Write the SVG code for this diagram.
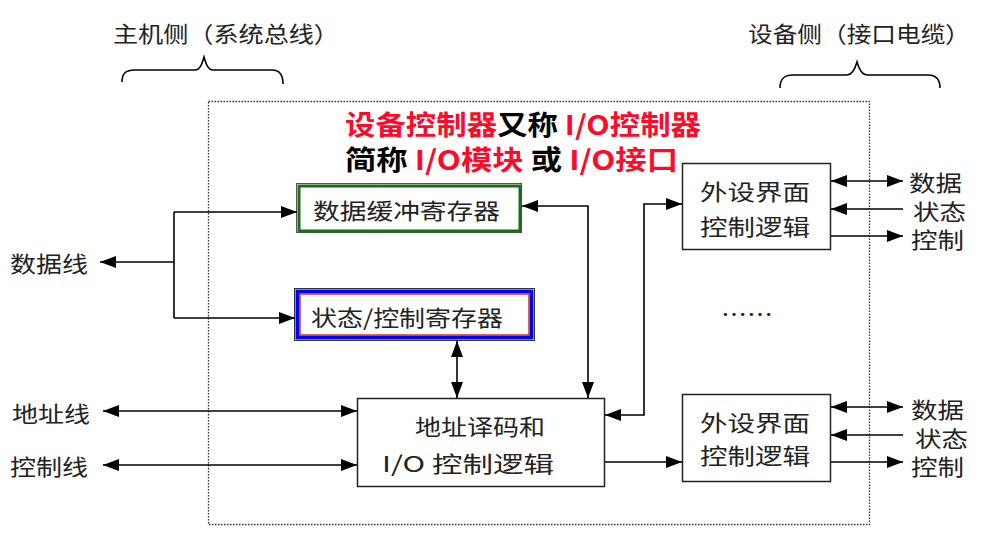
<svg xmlns="http://www.w3.org/2000/svg" width="990" height="536" viewBox="0 0 990 536">
<style>
  .t { font-family: "Noto Sans CJK SC", "Noto Sans", sans-serif; font-size: 22px; fill: #222; dominant-baseline: central; }
  .title { font-family: "Noto Sans CJK SC", "Noto Sans", sans-serif; font-size: 27px; font-weight: bold; dominant-baseline: central; }
  .red { fill: #ff0a2a; }
  .blk { fill: #000; }
  .box { fill: #fff; stroke: #222; stroke-width: 1.5; }
  .ln { fill: none; stroke: #000; stroke-width: 1.6; }
  .both { marker-start: url(#ah); marker-end: url(#ah); }
  .end { marker-end: url(#ah); }
</style>
<defs>
  <marker id="ah" viewBox="0 0 16 12" refX="16" refY="6" markerWidth="16" markerHeight="12" markerUnits="userSpaceOnUse" orient="auto-start-reverse">
    <path d="M0,0 L16,6 L0,12 z" fill="#000"/>
  </marker>
</defs>
<rect width="990" height="536" fill="#fff"/>

<g id="host-side">
  <text class="t" x="113" y="32" textLength="226" lengthAdjust="spacingAndGlyphs">主机侧（系统总线）</text>
  <path class="ln" stroke-width="1.4" d="M122,82 C122,74 125,70 135,70 L195,70 C200,70 202,64 204,57 C206,64 208,70 213,70 L272,70 C280,70 283,75 283,84"/>
</g>
<g id="device-side">
  <text class="t" x="748" y="32" textLength="222" lengthAdjust="spacingAndGlyphs">设备侧（接口电缆）</text>
  <path class="ln" stroke-width="1.4" d="M780,88 C780,80 783,75 793,75 L847,75 C852,75 855,69 857,62 C859,69 862,75 867,75 L928,75 C936,75 940,80 940,88"/>
</g>

<g id="io-module-boundary">
  <rect x="208.5" y="101.5" width="661" height="423" fill="none" stroke="#333" stroke-width="1.3" stroke-dasharray="1.5 1.5"/>
</g>

<g id="title">
  <text class="title" x="345" y="123" textLength="356" lengthAdjust="spacingAndGlyphs"><tspan class="red">设备控制器</tspan><tspan class="blk">又称 </tspan><tspan class="red">I/O控制器</tspan></text>
  <text class="title" x="345" y="158" textLength="333" lengthAdjust="spacingAndGlyphs"><tspan class="blk">简称 </tspan><tspan class="red">I/O模块 </tspan><tspan class="blk">或 </tspan><tspan class="red">I/O接口</tspan></text>
</g>

<g id="data-buffer">
  <rect x="296.5" y="183.5" width="225" height="49" fill="#fff" stroke="#555" stroke-width="1"/>
  <rect x="299" y="186" width="221" height="45" fill="none" stroke="#1e6b1e" stroke-width="3"/>
  <text class="t" x="313" y="209" textLength="187" lengthAdjust="spacingAndGlyphs">数据缓冲寄存器</text>
</g>

<g id="status-control-register">
  <rect x="294.5" y="288.5" width="240" height="52" fill="#fff" stroke="#333" stroke-width="1"/>
  <rect x="297.5" y="291.5" width="234" height="46" fill="none" stroke="#0000ff" stroke-width="4"/>
  <rect x="300" y="294" width="229" height="41" fill="none" stroke="#d03a10" stroke-width="1.5"/>
  <text class="t" x="311" y="316" textLength="192" lengthAdjust="spacingAndGlyphs">状态/控制寄存器</text>
</g>

<g id="address-decode">
  <rect class="box" x="357.5" y="398.5" width="247" height="88"/>
  <text class="t" x="480" y="425" text-anchor="middle" textLength="130" lengthAdjust="spacingAndGlyphs">地址译码和</text>
  <text class="t" x="468" y="462" text-anchor="middle" textLength="172" lengthAdjust="spacingAndGlyphs">I/O 控制逻辑</text>
</g>

<g id="device-logic-1">
  <rect class="box" x="682.5" y="163.5" width="148" height="86"/>
  <text class="t" x="755" y="190" text-anchor="middle" textLength="110" lengthAdjust="spacingAndGlyphs">外设界面</text>
  <text class="t" x="755" y="225" text-anchor="middle" textLength="110" lengthAdjust="spacingAndGlyphs">控制逻辑</text>
</g>

<g id="device-logic-2">
  <rect class="box" x="682.5" y="394.5" width="148" height="87"/>
  <text class="t" x="755" y="421" text-anchor="middle" textLength="110" lengthAdjust="spacingAndGlyphs">外设界面</text>
  <text class="t" x="755" y="454" text-anchor="middle" textLength="110" lengthAdjust="spacingAndGlyphs">控制逻辑</text>
</g>

<g id="labels">
  <text class="t" x="10" y="262" textLength="78" lengthAdjust="spacingAndGlyphs">数据线</text>
  <text class="t" x="12" y="412" textLength="78" lengthAdjust="spacingAndGlyphs">地址线</text>
  <text class="t" x="10" y="465" textLength="78" lengthAdjust="spacingAndGlyphs">控制线</text>
  <text class="t" x="909" y="181" textLength="53" lengthAdjust="spacingAndGlyphs">数据</text>
  <text class="t" x="913" y="210" textLength="53" lengthAdjust="spacingAndGlyphs">状态</text>
  <text class="t" x="911" y="238" textLength="53" lengthAdjust="spacingAndGlyphs">控制</text>
  <text class="t" x="911" y="408" textLength="53" lengthAdjust="spacingAndGlyphs">数据</text>
  <text class="t" x="915" y="437" textLength="53" lengthAdjust="spacingAndGlyphs">状态</text>
  <text class="t" x="911" y="465" textLength="53" lengthAdjust="spacingAndGlyphs">控制</text>
  <text class="t" x="721" y="312" textLength="52" lengthAdjust="spacingAndGlyphs">……</text>
</g>

<g id="connectors">
  <path class="ln" d="M174,212 L174,318"/>
  <path class="ln end" d="M174,262 L100,262"/>
  <path class="ln end" d="M174,212 L297,212"/>
  <path class="ln end" d="M174,318 L295,318"/>
  <path class="ln both" d="M103,411 L357,411"/>
  <path class="ln both" d="M103,465 L357,465"/>
  <path class="ln both" d="M522,206 L588,206 L588,398"/>
  <path class="ln both" d="M457,341 L457,398"/>
  <path class="ln both" d="M605,415 L644,415 L644,204 L682,204"/>
  <path class="ln end" d="M605,462 L682,462"/>
  <path class="ln both" d="M831,181 L903,181"/>
  <path class="ln end" d="M903,209 L831,209"/>
  <path class="ln end" d="M831,236 L903,236"/>
  <path class="ln both" d="M831,407 L903,407"/>
  <path class="ln end" d="M903,435 L831,435"/>
  <path class="ln end" d="M831,462 L903,462"/>
</g>
</svg>
